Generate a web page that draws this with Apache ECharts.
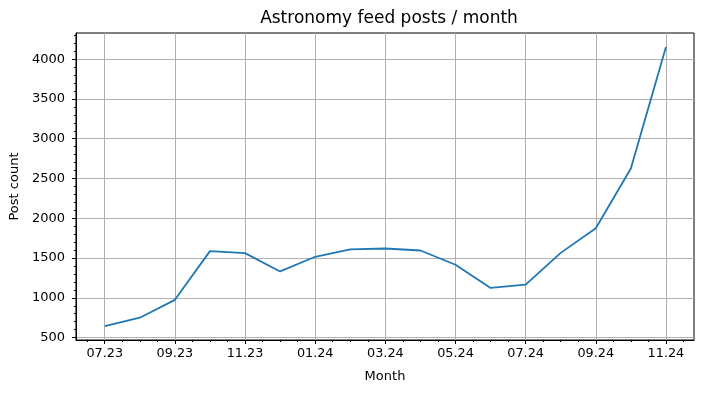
<!DOCTYPE html>
<html>
<head>
<meta charset="utf-8">
<script src="https://cdn.jsdelivr.net/npm/echarts@6/dist/echarts.min.js"></script>
<style>
  html, body { margin: 0; padding: 0; background: #fff; }
  #chart { width: 704px; height: 393px; }
</style>
</head>
<body>
<div id="chart"></div>
<script>
// monthly post counts
const months = ['07.23','08.23','09.23','10.23','11.23','12.23','01.24','02.24','03.24',
                '04.24','05.24','06.24','07.24','08.24','09.24','10.24','11.24'];
const posts = [645, 750, 975, 1587, 1562, 1332, 1516, 1608, 1620,
               1595, 1416, 1125, 1166, 1565, 1875, 2625, 4154];
const xMajor = [0, 2, 4, 6, 8, 10, 12, 14, 16];
const xMinor = [-0.5,0,0.5,1,1.5,2,2.5,3,3.5,4,4.5,5,5.5,6,6.5,7,7.5,8,8.5,9,9.5,10,10.5,
                11,11.5,12,12.5,13,13.5,14,14.5,15,15.5,16,16.5];
const yMajor = [500, 1000, 1500, 2000, 2500, 3000, 3500, 4000];
const yMinor = [600,700,800,900,1100,1200,1300,1400,1600,1700,1800,1900,2100,2200,2300,2400,
                2600,2700,2800,2900,3100,3200,3300,3400,3600,3700,3800,3900,4100,4200,4300];

const font = 'DejaVu Sans';
const xMin = -0.82, xMax = 16.8, yMin = 470, yMax = 4329;

const chart = echarts.init(document.getElementById('chart'));
chart.setOption({
  animation: false,
  title: {
    text: 'Astronomy feed posts / month',
    left: 384, top: 5, textAlign: 'center',
    textStyle: { fontFamily: font, fontSize: 17, fontWeight: 'normal', color: '#000' }
  },
  grid: { left: 74, right: 10, top: 33, bottom: 53, show: true,
          borderColor: '#000', borderWidth: 1, backgroundColor: 'transparent' },
  xAxis: [{
    type: 'value', min: xMin, max: xMax,
    name: 'Month', nameLocation: 'middle', nameGap: 30,
    nameTextStyle: { fontFamily: font, fontSize: 13, color: '#000' },
    axisLine: { show: true, onZero: false, lineStyle: { color: '#000', width: 1 } },
    axisTick: { show: true, length: 4, customValues: xMajor, lineStyle: { color: '#000' } },
    axisLabel: { customValues: xMajor, margin: 7, fontFamily: font, fontSize: 12.8, color: '#000',
                 formatter: v => months[Math.round(v)] || '' },
    splitLine: { show: true, lineStyle: { color: '#b0b0b0', width: 1 } }
  }, {
    type: 'value', min: xMin, max: xMax, position: 'bottom',
    axisLine: { show: false, onZero: false },
    axisTick: { show: true, length: 2, customValues: xMinor, lineStyle: { color: '#000' } },
    axisLabel: { show: false },
    splitLine: { show: false }
  }],
  yAxis: [{
    type: 'value', min: yMin, max: yMax,
    name: 'Post count', nameLocation: 'middle', nameGap: 54, nameRotate: 90,
    nameTextStyle: { fontFamily: font, fontSize: 13, color: '#000' },
    axisLine: { show: true, onZero: false, lineStyle: { color: '#000', width: 1 } },
    axisTick: { show: true, length: 4, customValues: yMajor, lineStyle: { color: '#000' } },
    axisLabel: { customValues: yMajor, margin: 11, fontFamily: font, fontSize: 13, color: '#000',
                 formatter: v => String(v) },
    splitLine: { show: true, lineStyle: { color: '#b0b0b0', width: 1 } }
  }, {
    type: 'value', min: yMin, max: yMax, position: 'left',
    axisLine: { show: false, onZero: false },
    axisTick: { show: true, length: 2, customValues: yMinor, lineStyle: { color: '#000' } },
    axisLabel: { show: false },
    splitLine: { show: false }
  }],
  series: [{
    type: 'line',
    data: posts.map((v, i) => [i, v]),
    showSymbol: false,
    lineStyle: { color: '#1f77b4', width: 1.8 },
    itemStyle: { color: '#1f77b4' }
  }]
});
</script>
</body>
</html>
